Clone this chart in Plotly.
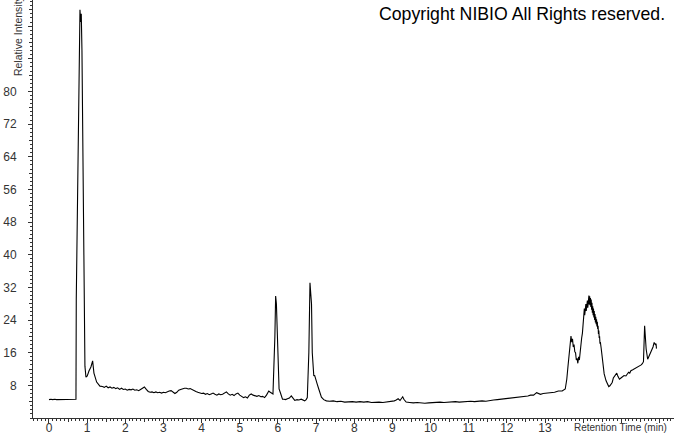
import plotly.graph_objects as go

# ---- data ----
time_min = [
    0.00, 0.05, 0.10, 0.15, 0.20, 0.25, 0.30, 0.35, 0.40, 0.45, 0.50, 0.55, 0.60, 0.65, 0.70,
    0.707, 0.715, 0.751, 0.777, 0.793, 0.812, 0.830, 0.846, 0.864, 0.882, 0.898, 0.916, 0.942,
    0.969, 1.003, 1.047, 1.099, 1.144, 1.178, 1.249, 1.335,
    1.40, 1.45, 1.50, 1.55, 1.60, 1.65, 1.70, 1.75, 1.80, 1.85, 1.90, 1.95, 2.00, 2.05, 2.10,
    2.15, 2.20, 2.25, 2.30, 2.35, 2.40, 2.45, 2.50, 2.55, 2.60, 2.65, 2.70, 2.75, 2.80, 2.85,
    2.90, 2.95, 3.00, 3.05, 3.10, 3.15, 3.20, 3.25, 3.30, 3.35, 3.40, 3.45, 3.50, 3.55, 3.60,
    3.65, 3.70, 3.75, 3.80, 3.85, 3.90, 3.95, 4.00, 4.05, 4.10, 4.15, 4.20, 4.25, 4.30, 4.35,
    4.40, 4.45, 4.50, 4.55, 4.60, 4.65, 4.70, 4.75, 4.80, 4.85, 4.90, 4.95, 5.00, 5.05, 5.10,
    5.15, 5.20, 5.25, 5.30, 5.35, 5.40, 5.45, 5.50, 5.55, 5.60, 5.65, 5.70, 5.76, 5.80, 5.84,
    5.87, 5.92, 5.94, 5.96, 5.99, 6.03, 6.06, 6.09, 6.12, 6.16, 6.20, 6.25, 6.30, 6.35, 6.40,
    6.44, 6.50, 6.55, 6.61, 6.66, 6.70, 6.74, 6.77,
    6.81, 6.84, 6.86, 6.88, 6.90, 6.94, 6.96, 6.98, 7.03, 7.07, 7.11, 7.14, 7.20, 7.27, 7.35,
    7.45, 7.55, 7.65, 7.75, 7.85, 7.95, 8.05, 8.15, 8.25, 8.35, 8.45, 8.55, 8.65, 8.75, 8.85,
    8.95, 9.05, 9.10, 9.15, 9.20, 9.24, 9.27, 9.30, 9.36, 9.45, 9.55, 9.65, 9.75, 9.85, 9.95,
    10.05, 10.15, 10.25, 10.35, 10.45, 10.55, 10.65, 10.75, 10.85, 10.95, 11.05, 11.15, 11.25,
    11.35, 11.45, 11.55, 11.65, 11.75, 11.85, 11.95, 12.05, 12.15, 12.25, 12.35, 12.45, 12.55,
    12.62, 12.70, 12.78, 12.82, 12.88, 12.95, 13.05, 13.15, 13.25, 13.35, 13.45, 13.53,
    13.57, 13.60, 13.62, 13.64, 13.66, 13.68, 13.70, 13.72, 13.74, 13.76, 13.78, 13.80, 13.82,
    13.84, 13.86, 13.88, 13.90, 13.92, 13.94, 13.96, 13.98, 14.00, 14.01, 14.02, 14.03, 14.04,
    14.05, 14.06, 14.07, 14.08, 14.09, 14.10, 14.11, 14.12, 14.13, 14.14, 14.15, 14.16, 14.17,
    14.18, 14.19, 14.20, 14.21, 14.22, 14.23, 14.24, 14.25, 14.26, 14.27, 14.28, 14.29, 14.30,
    14.31, 14.32, 14.33, 14.34, 14.35, 14.36, 14.37, 14.38, 14.39, 14.40, 14.41, 14.42, 14.43,
    14.44, 14.45, 14.47, 14.49, 14.51, 14.55, 14.60, 14.64, 14.67, 14.70, 14.73, 14.76, 14.79,
    14.82, 14.85, 14.88, 14.91, 14.95, 14.99, 15.03, 15.07, 15.12, 15.16, 15.19, 15.22, 15.25,
    15.30, 15.34, 15.38, 15.43, 15.47, 15.52, 15.55, 15.58, 15.61, 15.63, 15.65, 15.69, 15.73,
    15.77, 15.80, 15.83, 15.86, 15.89, 15.91, 15.92,
]

intensity = [
    4.5, 4.6, 4.5, 4.6, 4.5, 4.5, 4.6, 4.5, 4.6, 4.5, 4.6, 4.5, 4.5, 4.6, 4.6,
    4.6, 29.0, 53.5, 78.0, 94.0, 100.0, 97.0, 99.0, 90.0, 68.0, 49.0, 21.0, 12.7,
    10.0, 10.3, 11.5, 12.5, 14.0, 11.0, 8.8, 7.8,
    7.7, 7.5, 7.8, 7.4, 7.6, 7.3, 7.5, 7.2, 7.4, 7.0, 7.3, 7.0, 7.1, 6.8, 7.0,
    6.9, 7.1, 6.8, 6.9, 6.7, 7.0, 7.4, 7.6, 7.0, 6.5, 6.3, 6.4, 6.2, 6.4, 6.2,
    6.3, 6.1, 6.3, 6.2, 6.5, 6.6, 6.7, 6.3, 6.0, 6.3, 6.8, 7.0, 7.2, 7.3, 7.3,
    7.1, 7.2, 6.9, 6.6, 6.5, 6.3, 6.2, 6.0, 6.1, 5.8, 6.0, 5.7, 5.9, 6.1, 5.8,
    5.6, 5.9, 5.7, 5.8, 6.2, 6.4, 5.9, 5.6, 5.8, 5.5, 5.9, 6.1, 5.6, 5.3, 5.0,
    5.2, 4.9, 5.6, 5.9, 5.6, 5.5, 5.3, 5.5, 5.2, 5.3, 5.0, 5.6, 6.6, 6.3, 6.1,
    5.9, 20.0, 29.9, 28.0, 16.0, 7.1, 6.3, 5.1, 4.6, 4.6, 4.5, 4.7, 4.9, 5.4, 4.8,
    4.3, 4.5, 4.4, 4.6, 4.3, 4.2, 4.5, 5.0,
    16.0, 33.1, 30.5, 28.0, 16.0, 10.3, 10.5, 10.0, 8.3, 7.1, 5.8, 5.1, 4.5, 4.2, 4.1,
    4.2, 4.0, 4.1, 3.9, 4.0, 4.0, 3.9, 4.0, 3.9, 4.0, 3.8, 3.9, 3.9, 3.8, 3.9,
    4.0, 4.2, 4.4, 4.7, 4.3, 4.8, 5.2, 4.6, 3.9, 3.8, 3.7, 3.8, 3.7, 3.6, 3.7,
    3.8, 3.8, 3.9, 3.8, 3.9, 3.9, 4.0, 3.9, 4.0, 4.0, 4.1, 4.0, 4.1,
    4.2, 4.1, 4.3, 4.4, 4.5, 4.6, 4.7, 4.8, 5.0, 5.0, 5.2, 5.3, 5.4,
    5.6, 5.6, 6.2, 6.0, 5.8, 6.0, 6.1, 6.3, 6.3, 6.6, 6.6, 7.1,
    9.5, 12.5, 14.4, 17.0, 18.0, 20.1, 18.6, 19.4, 17.4, 18.0, 16.2, 16.0, 14.2,
    14.6, 13.4, 15.0, 14.2, 16.4, 17.4, 19.6, 20.8, 24.0, 26.0, 24.5, 26.8, 25.2,
    27.3, 25.8, 27.9, 26.2, 28.4, 26.9, 28.8, 27.0, 29.6, 27.5, 30.0, 27.8, 29.8,
    27.6, 29.4, 27.2, 29.0, 26.5, 28.2, 25.8, 27.4, 25.2, 26.8, 24.6, 26.2, 24.0,
    25.5, 23.4, 24.8, 23.0, 24.2, 22.4, 23.6, 21.8, 22.6, 20.6, 21.4, 19.6, 20.0,
    18.2, 18.6, 17.2, 15.2, 13.6, 10.8, 9.1, 8.1, 7.7, 7.9, 8.3, 8.7, 9.8,
    10.3, 10.8, 11.0, 10.2, 9.5, 9.8, 10.0, 10.4, 10.3, 10.9, 11.2, 11.0, 11.6,
    11.8, 12.0, 12.2, 12.4, 12.6, 13.0, 13.3, 13.8, 22.6, 19.0, 16.9, 14.4, 15.2,
    15.8, 16.5, 17.4, 18.5, 18.0, 18.2, 17.0,
]

x_tick_vals = list(range(0, 17))
x_tick_text = [str(v) if v <= 13 else "" for v in x_tick_vals]
x_half_ticks = [v + 0.5 for v in range(-1, 17)]
y_tick_vals = list(range(8, 104, 8))
y_tick_text = [str(v) if v <= 80 else "" for v in y_tick_vals]
y_half_ticks = list(range(4, 104, 8))

FONT = "Liberation Sans, Arial, sans-serif"
X_RANGE = [-0.419, 16.38]
Y_RANGE = [0, 102.4]

fig = go.Figure()
fig.add_trace(go.Scatter(
    x=time_min, y=intensity, mode="lines",
    line=dict(color="#000000", width=1.1),
    showlegend=False, hoverinfo="skip",
))
# invisible helper trace so the overlay axes render
fig.add_trace(go.Scatter(x=[None], y=[None], xaxis="x2", yaxis="y2", showlegend=False))

fig.update_layout(
    width=674, height=434,
    margin=dict(l=33, r=0, t=0, b=16, autoexpand=False),
    paper_bgcolor="white", plot_bgcolor="white",
    font=dict(family=FONT, size=12, color="#333333"),
    xaxis=dict(
        range=X_RANGE, tickmode="array", tickvals=x_tick_vals, ticktext=x_tick_text,
        ticks="outside", ticklen=4, tickwidth=1, tickcolor="#333333",
        showline=True, linecolor="#333333", linewidth=1,
        showgrid=False, zeroline=False, automargin=False,
        minor=dict(dtick=0.1, tick0=0, ticks="outside", ticklen=2, tickcolor="#333333", showgrid=False),
        tickfont=dict(size=12, color="#333333"),
        ticklabelstandoff=-5,
        fixedrange=True,
    ),
    yaxis=dict(
        range=Y_RANGE, tickmode="array", tickvals=y_tick_vals, ticktext=y_tick_text,
        ticks="outside", ticklen=4, tickwidth=1, tickcolor="#333333",
        showline=True, linecolor="#333333", linewidth=1,
        showgrid=False, zeroline=False, automargin=False,
        minor=dict(dtick=1, tick0=0, ticks="outside", ticklen=2, tickcolor="#333333", showgrid=False),
        tickfont=dict(size=12, color="#333333"),
        ticklabelstandoff=9,
        fixedrange=True,
    ),
    xaxis2=dict(
        range=X_RANGE, overlaying="x", anchor="y", side="bottom",
        tickmode="array", tickvals=x_half_ticks, showticklabels=False,
        ticks="outside", ticklen=3, tickcolor="#333333", automargin=False,
        showline=False, showgrid=False, zeroline=False, fixedrange=True,
    ),
    yaxis2=dict(
        range=Y_RANGE, overlaying="y", anchor="x", side="left",
        tickmode="array", tickvals=y_half_ticks, showticklabels=False,
        ticks="outside", ticklen=3, tickcolor="#333333", automargin=False,
        showline=False, showgrid=False, zeroline=False, fixedrange=True,
    ),
    annotations=[
        dict(text="Relative Intensity", textangle=-90, xref="paper", yref="paper",
             x=-0.0234, y=0.812, xanchor="center", yanchor="bottom", showarrow=False,
             font=dict(family=FONT, size=10.5, color="#333333")),
        dict(text="Retention Time (min)", xref="paper", yref="paper",
             x=0.9925, y=-0.0237, xanchor="right", yanchor="middle", showarrow=False,
             font=dict(family=FONT, size=10, color="#333333")),
        dict(text="Copyright NIBIO All Rights reserved.", xref="paper", yref="paper",
             x=0.989, y=0.966, xanchor="right", yanchor="middle", showarrow=False,
             font=dict(family=FONT, size=17.7, color="#000000")),
    ],
)

fig.write_html(
    "out.html",
    config={"displayModeBar": False, "staticPlot": True},
    post_script="document.body.style.margin='0';document.body.style.overflow='hidden';"
                "document.documentElement.style.overflow='hidden';",
)
